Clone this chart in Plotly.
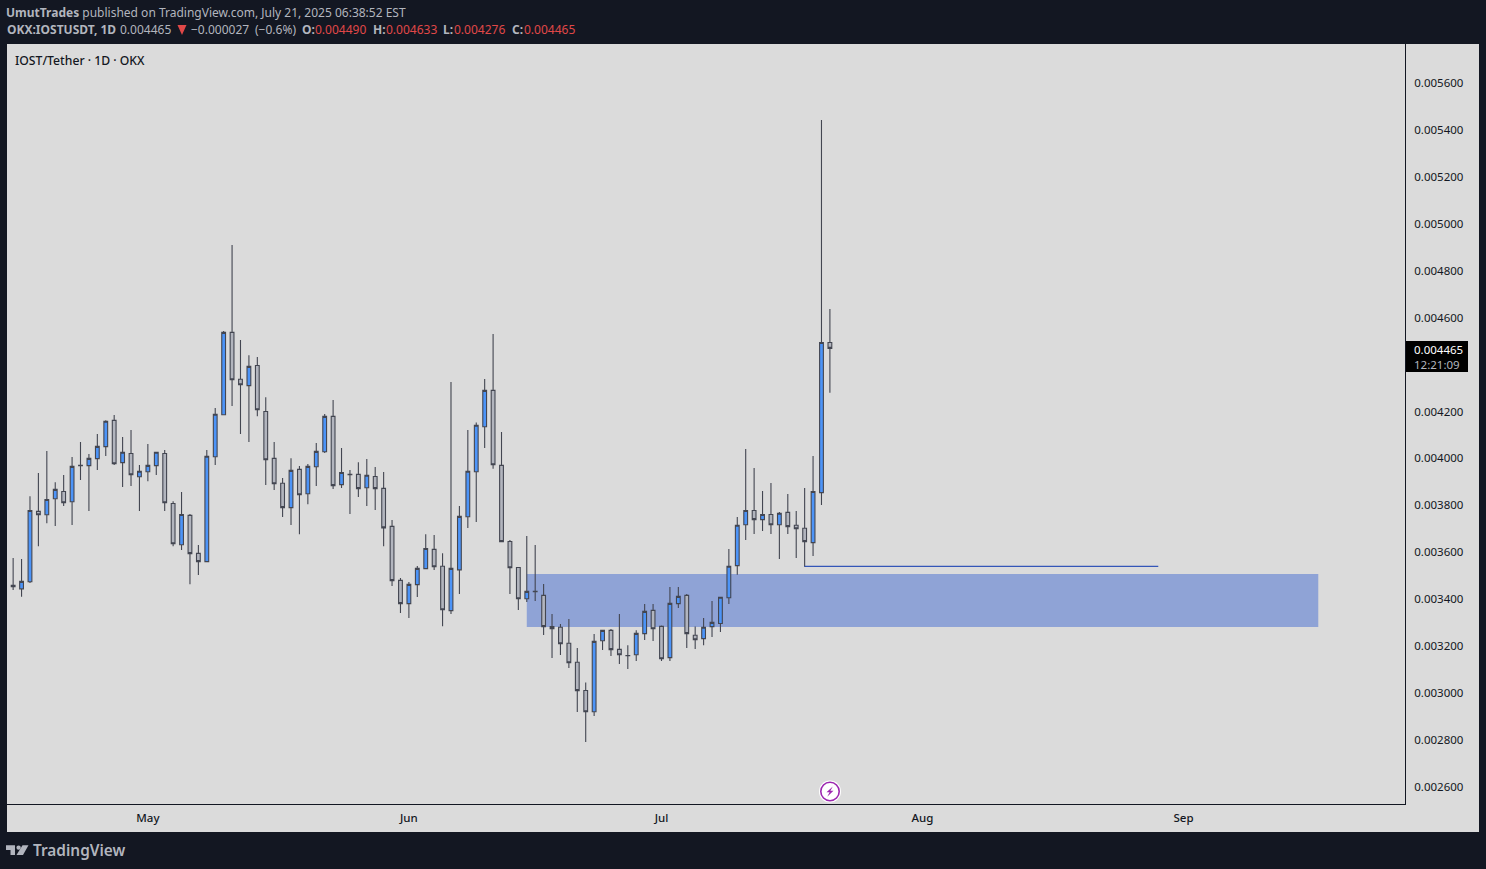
import pandas as pd
import plotly.graph_objects as go

# Daily bars, Apr 15 to Jul 21
dates = pd.date_range('2025-04-15', '2025-07-21', freq='D')

opens = [
    0.003455, 0.003440, 0.003470, 0.003770, 0.003756, 0.003824, 0.003855, 0.003811, 0.003966, 0.003965,
    0.003995, 0.004046, 0.004158, 0.003978, 0.004017, 0.003918, 0.003939, 0.003965, 0.004017, 0.003804,
    0.003628, 0.003753, 0.003591, 0.003556, 0.004003, 0.004182, 0.004533, 0.004333, 0.004306, 0.004392,
    0.004196, 0.003996, 0.003890, 0.003786, 0.003949, 0.003845, 0.003960, 0.004024, 0.004175, 0.003884,
    0.003928, 0.003928, 0.003871, 0.003919, 0.003868, 0.003706, 0.003476, 0.003377, 0.003458, 0.003526,
    0.003608, 0.003536, 0.003347, 0.003521, 0.003747, 0.003939, 0.004131, 0.004286, 0.003966, 0.003642,
    0.003531, 0.003398, 0.003429, 0.003412, 0.003279, 0.003276, 0.003208, 0.003127, 0.003007, 0.002916,
    0.003219, 0.003263, 0.003182, 0.003156, 0.003159, 0.003249, 0.003348, 0.003280, 0.003147, 0.003377,
    0.003412, 0.003242, 0.003228, 0.003279, 0.003292, 0.003402, 0.003539, 0.003713, 0.003774, 0.003735,
    0.003757, 0.003713, 0.003766, 0.003711, 0.003698, 0.003637, 0.003850, 0.004490,
]
highs = [
    0.003571, 0.003567, 0.003835, 0.003934, 0.004027, 0.003894, 0.003925, 0.004002, 0.004066, 0.004015,
    0.004100, 0.004159, 0.004181, 0.004087, 0.004117, 0.003968, 0.004057, 0.004022, 0.004032, 0.003813,
    0.003853, 0.003759, 0.003627, 0.004032, 0.004211, 0.004539, 0.004905, 0.004500, 0.004436, 0.004428,
    0.004257, 0.004066, 0.003912, 0.003997, 0.003963, 0.003972, 0.004061, 0.004185, 0.004245, 0.004040,
    0.003946, 0.003980, 0.003993, 0.003959, 0.003938, 0.003733, 0.003486, 0.003469, 0.003537, 0.003673,
    0.003669, 0.003592, 0.004321, 0.003793, 0.004117, 0.004149, 0.004334, 0.004526, 0.004108, 0.003648,
    0.003531, 0.003665, 0.003627, 0.003461, 0.003333, 0.003290, 0.003311, 0.003188, 0.003041, 0.003247,
    0.003263, 0.003269, 0.003333, 0.003200, 0.003264, 0.003375, 0.003375, 0.003284, 0.003448, 0.003448,
    0.003418, 0.003279, 0.003316, 0.003388, 0.003404, 0.003610, 0.003746, 0.004036, 0.003955, 0.003857,
    0.003891, 0.003767, 0.003844, 0.003772, 0.003870, 0.004006, 0.005438, 0.004633,
]
lows = [
    0.003435, 0.003406, 0.003465, 0.003622, 0.003720, 0.003708, 0.003793, 0.003712, 0.003904, 0.003772,
    0.003946, 0.004006, 0.003968, 0.003874, 0.003878, 0.003772, 0.003899, 0.003925, 0.003772, 0.003622,
    0.003605, 0.003460, 0.003499, 0.003556, 0.003968, 0.004182, 0.004219, 0.004100, 0.004066, 0.004176,
    0.003882, 0.003861, 0.003746, 0.003712, 0.003673, 0.003801, 0.003878, 0.004019, 0.003865, 0.003870,
    0.003759, 0.003831, 0.003793, 0.003776, 0.003622, 0.003452, 0.003337, 0.003316, 0.003405, 0.003526,
    0.003520, 0.003281, 0.003333, 0.003418, 0.003699, 0.003725, 0.004040, 0.003952, 0.003641, 0.003418,
    0.003350, 0.003384, 0.003388, 0.003243, 0.003145, 0.003158, 0.003103, 0.002915, 0.002787, 0.002898,
    0.003179, 0.003154, 0.003120, 0.003098, 0.003132, 0.003222, 0.003218, 0.003132, 0.003132, 0.003358,
    0.003188, 0.003184, 0.003200, 0.003235, 0.003256, 0.003375, 0.003500, 0.003648, 0.003674, 0.003686,
    0.003674, 0.003567, 0.003674, 0.003571, 0.003534, 0.003580, 0.003797, 0.004276,
]
closes = [
    0.003449, 0.003472, 0.003774, 0.003756, 0.003821, 0.003864, 0.003807, 0.003962, 0.003965, 0.003996,
    0.004047, 0.004154, 0.003973, 0.004022, 0.003926, 0.003941, 0.003966, 0.004022, 0.003807, 0.003632,
    0.003757, 0.003590, 0.003556, 0.004005, 0.004184, 0.004533, 0.004331, 0.004310, 0.004388, 0.004203,
    0.003990, 0.003888, 0.003786, 0.003945, 0.003841, 0.003962, 0.004026, 0.004175, 0.003880, 0.003936,
    0.003926, 0.003867, 0.003924, 0.003867, 0.003700, 0.003475, 0.003377, 0.003459, 0.003527, 0.003612,
    0.003534, 0.003351, 0.003527, 0.003749, 0.003941, 0.004137, 0.004286, 0.003969, 0.003641, 0.003530,
    0.003398, 0.003429, 0.003428, 0.003279, 0.003270, 0.003206, 0.003125, 0.003006, 0.002916, 0.003216,
    0.003263, 0.003181, 0.003159, 0.003155, 0.003250, 0.003344, 0.003270, 0.003142, 0.003378, 0.003408,
    0.003249, 0.003223, 0.003276, 0.003297, 0.003404, 0.003536, 0.003711, 0.003774, 0.003735, 0.003757,
    0.003713, 0.003762, 0.003705, 0.003696, 0.003641, 0.003855, 0.004490, 0.004465,
]

price_ticks = [0.0026, 0.0028, 0.0030, 0.0032, 0.0034, 0.0036, 0.0038, 0.0040, 0.0042,
               0.0046, 0.0048, 0.0050, 0.0052, 0.0054, 0.0056]
month_ticks = ['2025-05-01', '2025-06-01', '2025-07-01', '2025-08-01', '2025-09-01']
month_labels = ['May', 'Jun', 'Jul', 'Aug', 'Sep']

# Drawings on the chart
zone_start, zone_end = '2025-06-15', '2025-09-17'
zone_top, zone_bottom = 0.003503, 0.003277
level_start, level_end = '2025-07-18', '2025-08-29'
level_price = 0.003536

WIDTH, HEIGHT = 1486, 869
DARK = '#131722'
PANEL = '#dbdbdb'
FONT = 'Noto Sans'
INK = '#131722'
MUTED = '#b2b5be'
RED = '#e04848'
PURPLE = '#9c27b0'


def px(x):
    return x / WIDTH


def py(y):
    return 1 - y / HEIGHT


def page_path(points):
    # closed polygon from page pixel corners
    return 'M' + ' L'.join(f'{px(x):.5f},{py(y):.5f}' for x, y in points) + ' Z'


def page_polygon(points, color):
    return dict(type='path', xref='paper', yref='paper', layer='above', fillcolor=color, line_width=0,
                path=page_path(points))


def page_rect(x0, y0, x1, y1, color, layer='above'):
    return dict(type='rect', xref='paper', yref='paper', x0=px(x0), x1=px(x1), y0=py(y0), y1=py(y1),
                fillcolor=color, line_width=0, layer=layer)


def page_circle(cx, cy, r, fill, line=None, line_width=0):
    return dict(type='circle', xref='paper', yref='paper', x0=px(cx - r), x1=px(cx + r),
                y0=py(cy + r), y1=py(cy - r), fillcolor=fill,
                line=dict(color=line or fill, width=line_width), layer='above')


def page_text(x, y, text, size=12, color=INK, weight=400):
    return dict(xref='paper', yref='paper', x=px(x), y=py(y), text=text, showarrow=False,
                xanchor='left', yanchor='middle', align='left',
                font=dict(family=FONT, size=size, color=color, weight=weight))


fig = go.Figure(go.Candlestick(
    x=dates,
    open=opens,
    high=highs,
    low=lows,
    close=closes,
    increasing=dict(fillcolor='#4c94f8', line=dict(color='#434651', width=1.1)),
    decreasing=dict(fillcolor='#b2b5be', line=dict(color='#434651', width=1.1)),
    hoverinfo='skip',
    showlegend=False,
))

shapes = [
    # chart panel with price and time scales
    page_rect(7, 44, 1479, 832, PANEL, layer='below'),
    # demand zone and level
    dict(type='rect', xref='x', yref='y', x0=zone_start, x1=zone_end, y0=zone_bottom, y1=zone_top,
         fillcolor='#8fa3d6', line_width=0, layer='below'),
    dict(type='line', xref='x', yref='y', x0=level_start, x1=level_end, y0=level_price, y1=level_price,
         line=dict(color='#0a35b0', width=1), layer='above'),
    # last price tag
    page_rect(1406, 341, 1468, 372, '#000000'),
    # falling arrow in the quote line
    page_polygon([(177.5, 25), (186.5, 25), (182, 35)], RED),
    # lightning badge
    page_circle(830, 791.5, 11, '#ffffff'),
    page_circle(830, 791.5, 9.2, '#ffffff', PURPLE, 1.6),
    page_polygon([(832.8, 786.5), (826.5, 792.3), (829.6, 792.3), (827.2, 796.7),
                  (833.5, 790.8), (830.4, 790.8)], PURPLE),
    # TradingView mark
    page_polygon([(6, 845.3), (15, 845.3), (15, 855), (10.5, 855), (10.5, 850), (6, 850)], MUTED),
    page_circle(18.6, 847.6, 2.2, MUTED),
    page_polygon([(22.5, 845.3), (28.5, 845.3), (23, 855), (16.5, 855)], MUTED),
]

quote_row = 29.5
annotations = [
    page_text(4, 12.5, '<b>UmutTrades</b> published on TradingView.com, July 21, 2025 06:38:52 EST', color=MUTED),
    page_text(4.5, quote_row, '<b>OKX:IOSTUSDT, 1D</b>', color=MUTED),
    page_text(118, quote_row, '0.004465', color=MUTED),
    page_text(189, quote_row, '−0.000027', color=MUTED),
    page_text(252.5, quote_row, '(−0.6%)', color=MUTED),
    page_text(300, quote_row, '<b>O:</b>', color=MUTED),
    page_text(313, quote_row, '0.004490', color=RED),
    page_text(371, quote_row, '<b>H:</b>', color=MUTED),
    page_text(384.5, quote_row, '0.004633', color=RED),
    page_text(441, quote_row, '<b>L:</b>', color=MUTED),
    page_text(452, quote_row, '0.004276', color=RED),
    page_text(510, quote_row, '<b>C:</b>', color=MUTED),
    page_text(522, quote_row, '0.004465', color=RED),
    page_text(13, 60.5, 'IOST/Tether · 1D · OKX', size=12.2, color=INK, weight=500),
    page_text(1412, 357, '0.004465<br><span style="color:#b2b5be">12:21:09</span>', size=11.5, color='#ffffff'),
    page_text(31, 850.5, 'TradingView', size=15.4, color=MUTED, weight=600),
]

fig.update_layout(
    width=WIDTH,
    height=HEIGHT,
    margin=dict(l=0, r=0, t=0, b=0),
    paper_bgcolor=DARK,
    plot_bgcolor=PANEL,
    boxgap=0.36,
    shapes=shapes,
    annotations=annotations,
    font=dict(family=FONT, size=12, color=INK),
    showlegend=False,
)
fig.update_xaxes(
    domain=[px(7), px(1405)],
    range=['2025-04-14 06:30', '2025-09-27 07:12'],
    rangeslider_visible=False,
    tickmode='array',
    tickvals=month_ticks,
    ticktext=month_labels,
    ticks='',
    ticklabelstandoff=3,
    showgrid=False,
    zeroline=False,
    showline=True,
    linecolor=DARK,
    linewidth=1,
    tickfont=dict(family=FONT, size=11.5, color=INK, weight=500),
)
fig.update_yaxes(
    domain=[py(804), py(44)],
    range=[0.002523, 0.005762],
    side='right',
    tickmode='array',
    tickvals=price_ticks,
    tickformat='.6f',
    ticks='',
    ticklabelstandoff=6,
    ticklabelshift=1,
    showgrid=False,
    zeroline=False,
    showline=True,
    linecolor=DARK,
    linewidth=1,
    tickfont=dict(family=FONT, size=11.5, color=INK),
)

fig.write_html(
    'out.html',
    config=dict(displayModeBar=False),
    post_script="document.body.style.margin='0';document.body.style.overflow='hidden';"
                f"document.body.style.background='{DARK}';",
)
